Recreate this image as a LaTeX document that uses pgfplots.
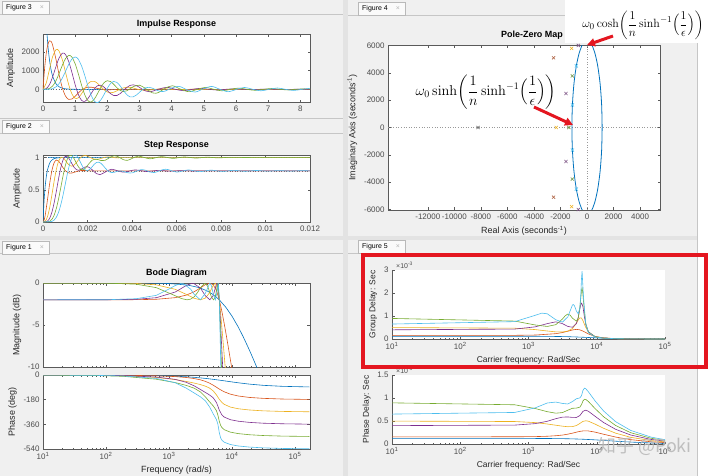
\documentclass[border=0pt]{standalone}
\usepackage[no-math]{fontspec}
\setmainfont{Liberation Sans}
\newfontfamily\cjk{Noto Sans CJK SC}
\usepackage{amsmath}
\usepackage{pgfplots}
\pgfplotsset{compat=1.18}
\usetikzlibrary{arrows.meta}

\definecolor{mb}{rgb}{0,0.447,0.741}
\definecolor{mo}{rgb}{0.85,0.325,0.098}
\definecolor{my}{rgb}{0.929,0.694,0.125}
\definecolor{mp}{rgb}{0.494,0.184,0.556}
\definecolor{mg}{rgb}{0.466,0.674,0.188}
\definecolor{mc}{rgb}{0.301,0.745,0.933}
\definecolor{figbg}{RGB}{240,240,240}
\definecolor{axc}{RGB}{90,90,90}
\definecolor{redbox}{RGB}{228,22,32}

\pgfplotsset{
  matax/.style={
    scale only axis, anchor=north west,
    axis background/.style={fill=white},
    axis line style={axc, line width=0.45pt},
    every tick/.style={axc, line width=0.4pt},
    major tick length=2.5bp, minor tick length=1.5bp,
    tick align=inside,
    tick label style={font=\fontsize{8}{9}\selectfont, text=black!70},
    label style={font=\fontsize{9}{10}\selectfont, text=black!85},
    title style={font=\fontsize{9}{10}\selectfont\bfseries, yshift=-4bp},
    every axis plot/.append style={line width=0.6pt},
    scaled ticks=false,
  },
  mylogticks/.style={xtick={10,100,1000,10000,100000},
    xticklabels={10\textsuperscript{1},10\textsuperscript{2},10\textsuperscript{3},10\textsuperscript{4},10\textsuperscript{5}},
    minor xtick={20,30,40,50,60,70,80,90,200,300,400,500,600,700,800,900,2000,3000,4000,5000,6000,7000,8000,9000,20000,30000,40000,50000,60000,70000,80000,90000}},
}

\newcommand{\figtab}[3]{%
  \fill[white!96!gray, draw=gray!55, line width=0.4bp] (#1,#2) rectangle ++(47,13);
  \node[anchor=west, font=\fontsize{7}{8}\selectfont, inner sep=0] at (#1+4,#2+6.5) {#3};
  \node[font=\fontsize{7}{8}\selectfont, text=gray!60, inner sep=0] at (#1+40,#2+6.5) {×};
}

\begin{document}
\begin{tikzpicture}
\useasboundingbox (0,0) rectangle (720bp,-476bp);
\begin{scope}[x=1bp,y=-1bp]
\fill[white] (0,0) rectangle (720,476);
\fill[figbg] (0,0) rectangle (343,236);
\fill[figbg] (348,0) rectangle (697,236);
\fill[figbg] (0,240) rectangle (343,476);
\fill[figbg] (348,240) rectangle (697,476);
\fill[gray!22] (343,0) rectangle (348,476);
\fill[gray!22] (0,236) rectangle (697,240);
\draw[gray!45, line width=0.5bp] (0,14) -- (343,14);
\draw[gray!45, line width=0.5bp] (0,118) -- (343,118);
\draw[gray!45, line width=0.5bp] (0,133) -- (343,133);
\draw[gray!45, line width=0.5bp] (348,15) -- (697,15);
\draw[gray!45, line width=0.5bp] (0,253) -- (343,253);
\draw[gray!45, line width=0.5bp] (348,253) -- (697,253);
\draw[gray!45, line width=0.5bp] (697,0) -- (697,476);
\figtab{2}{1}{Figure 3}
\figtab{2}{120}{Figure 2}
\figtab{358}{2}{Figure 4}
\figtab{2}{241}{Figure 1}
\figtab{358}{240}{Figure 5}
\end{scope}

% ---------------- Impulse response (t in ms)
\begin{axis}[matax, at={(43bp,-34bp)}, width=267bp, height=68bp,
  xmin=0, xmax=8.3, ymin=-680, ymax=2965,
  xtick={0,1,2,3,4,5,6,7,8}, xticklabels={0,1,2,3,4,5,6,7,8},
  ytick={0,1000,2000}, yticklabels={0,1000,2000},
  title={Impulse Response}, ylabel={Amplitude}]
\addplot[black!60, dotted, line width=0.5pt] coordinates {(0,0) (8.3,0)};
\addplot[mb, smooth] coordinates {(0,8213) (0.05,5451) (0.1,3618) (0.15,2401) (0.2,1594) (0.25,1058) (0.3,702) (0.4,309) (0.5,136) (0.6,60) (0.7,26) (0.85,8) (1.0,2) (1.5,0) (8.3,0)};
\addplot[mo, smooth] coordinates {(0,0) (0.05,1124) (0.1,1918) (0.15,2398) (0.2,2599) (0.25,2571) (0.3,2365) (0.4,1636) (0.5,792) (0.6,84) (0.7,-364) (0.8,-543) (0.9,-517) (1.0,-373) (1.1,-193) (1.2,-37) (1.3,67) (1.4,113) (1.5,113) (1.6,84) (1.7,46) (1.8,12) (2.0,-23) (2.3,-11) (2.6,2) (3.0,0) (8.3,0)};
\addplot[my, smooth] coordinates {(0,0) (0.1,336) (0.2,1061) (0.3,1755) (0.4,2123) (0.45,2142) (0.5,2050) (0.6,1591) (0.7,919) (0.8,247) (0.9,-251) (1.0,-484) (1.1,-451) (1.2,-233) (1.3,52) (1.4,299) (1.5,429) (1.6,426) (1.7,313) (1.8,141) (1.9,-29) (2.0,-143) (2.1,-186) (2.2,-157) (2.4,6) (2.5,76) (2.6,111) (2.7,107) (2.8,72) (3.0,-21) (3.2,-57) (3.45,-10) (3.7,31) (4.2,-15) (4.7,7) (5.2,0) (8.3,0)};
\addplot[mp, smooth] coordinates {(0,0) (0.1,38) (0.2,247) (0.3,670) (0.4,1204) (0.5,1681) (0.6,1935) (0.65,1941) (0.7,1865) (0.8,1487) (0.9,897) (1.0,248) (1.1,-284) (1.2,-593) (1.3,-644) (1.4,-489) (1.5,-220) (1.6,40) (1.7,199) (1.8,219) (1.9,111) (2.0,-64) (2.1,-234) (2.2,-334) (2.3,-330) (2.4,-229) (2.5,-70) (2.6,91) (2.7,205) (2.8,242) (2.9,201) (3.0,105) (3.07,20) (3.2,-95) (3.332,-136) (3.593,8) (3.854,107) (4.115,0) (4.376,-76) (4.637,0) (4.898,54) (5.159,0) (5.42,-38) (5.681,0) (5.942,27) (6.203,0) (6.464,-19) (6.725,0) (6.986,13) (7.247,0) (7.508,-10) (7.769,0) (8.03,7) (8.3,0)};
\addplot[mg, smooth] coordinates {(0,0) (0.2,42) (0.3,176) (0.4,449) (0.5,845) (0.6,1284) (0.7,1647) (0.8,1820) (0.85,1807) (0.9,1728) (1.0,1369) (1.1,821) (1.2,217) (1.3,-298) (1.4,-614) (1.5,-678) (1.6,-516) (1.7,-216) (1.8,110) (1.9,357) (2.0,461) (2.1,417) (2.2,266) (2.3,85) (2.4,-60) (2.5,-118) (2.6,-82) (2.7,20) (2.8,137) (3.0,221) (3.2,28) (3.4,-191) (3.512,-212) (3.6,-164) (3.8,57) (4.026,191) (4.283,0) (4.54,-128) (4.797,0) (5.053,103) (5.31,0) (5.567,-83) (5.824,0) (6.08,67) (6.337,0) (6.594,-54) (6.851,0) (7.108,43) (7.365,0) (7.621,-35) (7.878,0) (8.135,28) (8.3,16)};
\addplot[mc, smooth] coordinates {(0,0) (0.2,5) (0.3,36) (0.4,127) (0.5,307) (0.6,598) (0.7,964) (0.8,1338) (0.9,1626) (1.0,1733) (1.05,1702) (1.1,1608) (1.2,1251) (1.3,730) (1.4,159) (1.5,-334) (1.6,-640) (1.7,-712) (1.8,-564) (1.9,-271) (2.0,58) (2.1,313) (2.2,422) (2.3,367) (2.4,182) (2.5,-60) (2.6,-276) (2.7,-401) (2.8,-407) (2.9,-312) (3.0,-159) (3.1,-10) (3.2,87) (3.3,108) (3.4,62) (3.5,-18) (3.6,-91) (3.718,-121) (3.8,-94) (4.0,69) (4.228,158) (4.482,-28) (4.737,-145) (4.992,33) (5.247,155) (5.501,0) (5.756,-128) (6.01,-5) (6.265,100) (6.52,0) (6.774,-80) (7.029,0) (7.283,71) (7.538,0) (7.793,-61) (8.048,0) (8.3,53)};
\end{axis}

% ---------------- Step response (t in ms)
\begin{axis}[matax, at={(43bp,-155bp)}, width=267bp, height=67bp,
  xmin=0, xmax=12, ymin=0, ymax=1.04,
  xtick={0,2,4,6,8,10,12}, xticklabels={0,0.002,0.004,0.006,0.008,0.01,0.012},
  ytick={0,0.5,1}, yticklabels={0,0.5,1},
  title={Step Response}, ylabel={Amplitude}]
\addplot[black!55, dotted, line width=0.5pt] coordinates {(0,1) (12,1)};
\addplot[black!55, dotted, line width=0.5pt] coordinates {(0,0.794) (12,0.794)};
\addplot[mb, smooth] coordinates {(0,0) (0.05,0.337) (0.1,0.560) (0.15,0.708) (0.2,0.806) (0.3,0.915) (0.4,0.962) (0.5,0.984) (0.7,0.997) (1,1) (12,1)};
\addplot[mo, smooth] coordinates {(0,0) (0.05,0.0295) (0.1,0.1069) (0.2,0.342) (0.3,0.5961) (0.4,0.799) (0.5,0.9195) (0.6,0.9617) (0.7,0.9453) (0.8,0.898) (0.9,0.8432) (1.0,0.7984) (1.1,0.7699) (1.2,0.7589) (1.3,0.7609) (1.5,0.7822) (1.7,0.7986) (2.0,0.7994) (2.5,0.794) (12,0.794)};
\addplot[my, smooth] coordinates {(0,0) (0.1,0.0118) (0.2,0.0804) (0.3,0.2229) (0.4,0.4203) (0.5,0.6325) (0.6,0.817) (0.7,0.9435) (0.8,1.001) (0.9,0.9991) (1.0,0.9596) (1.1,0.911) (1.2,0.8767) (1.3,0.8665) (1.4,0.885) (1.5,0.9225) (1.6,0.9668) (1.7,1.004) (1.8,1.0267) (1.9,1.032) (2.0,1.0229) (2.1,1.0055) (2.2,0.9879) (2.4,0.9718) (2.6,0.9862) (2.9,1.0111) (3.4,0.9937) (4.0,1.0) (12,1)};
\addplot[mp, smooth] coordinates {(0,0) (0.1,0.0007) (0.2,0.0132) (0.3,0.0586) (0.4,0.1523) (0.5,0.2963) (0.6,0.4786) (0.7,0.6723) (0.8,0.8421) (0.9,0.9619) (1.0,1.0185) (1.1,1.0135) (1.2,0.9689) (1.3,0.9055) (1.4,0.8476) (1.5,0.8118) (1.6,0.8033) (1.7,0.8161) (1.8,0.8383) (1.9,0.8558) (2.0,0.8584) (2.1,0.8429) (2.2,0.8137) (2.4,0.7511) (2.567,0.735) (2.8,0.7756) (3.089,0.8188) (3.611,0.7733) (4.133,0.8087) (4.655,0.7836) (5.177,0.8014) (5.699,0.7888) (6.221,0.7977) (6.743,0.7914) (7.5,0.794) (12,0.794)};
\addplot[mg, smooth] coordinates {(0,0) (0.2,0.0019) (0.3,0.0118) (0.4,0.0417) (0.5,0.1054) (0.6,0.2118) (0.7,0.3593) (0.8,0.5349) (0.9,0.7143) (1.0,0.8715) (1.1,0.9822) (1.2,1.0339) (1.3,1.0284) (1.4,0.981) (1.5,0.9148) (1.6,0.853) (1.7,0.8155) (1.8,0.8104) (1.9,0.8346) (2.0,0.877) (2.2,0.9568) (2.4,0.9752) (2.6,0.9548) (2.8,0.9594) (3.0,1.0) (3.2,1.0282) (3.4,1.0095) (3.6,0.969) (3.8,0.9573) (4.0,0.9857) (4.294,1.023) (4.808,0.9813) (5.322,1.015) (5.835,0.9879) (6.349,1.0097) (6.863,0.9922) (7.376,1.0063) (7.89,0.995) (8.4,1.004) (9.5,1) (12,1)};
\addplot[mc, smooth] coordinates {(0,0) (0.4,0.0092) (0.5,0.0295) (0.6,0.0744) (0.7,0.1516) (0.8,0.2679) (0.9,0.4159) (1.0,0.5861) (1.1,0.7552) (1.2,0.9001) (1.3,0.9997) (1.4,1.0447) (1.5,1.0347) (1.6,0.9844) (1.7,0.9149) (1.8,0.8495) (1.9,0.8066) (2.0,0.7962) (2.1,0.8157) (2.2,0.854) (2.3,0.8948) (2.4,0.9231) (2.5,0.9293) (2.6,0.912) (2.7,0.8773) (2.8,0.836) (2.9,0.7993) (3.0,0.7755) (3.1,0.7673) (3.2,0.7717) (3.3,0.7821) (3.4,0.791) (3.5,0.7932) (3.6,0.7877) (3.8,0.7654) (4.0,0.7619) (4.2,0.7881) (4.4,0.8122) (4.6,0.804) (4.8,0.7761) (5.0,0.7666) (5.509,0.8196) (6.018,0.775) (6.527,0.8084) (7.036,0.7816) (7.546,0.8047) (8.055,0.7848) (8.564,0.8019) (9.074,0.7872) (9.583,0.7998) (10.09,0.789) (10.6,0.7983) (11.11,0.7903) (11.62,0.7972) (12,0.793)};
\end{axis}

% ---------------- Pole-zero map
\begin{axis}[matax, at={(388bp,-45bp)}, width=272bp, height=165bp,
  xmin=-15000, xmax=5500, ymin=-6050, ymax=6050,
  xtick={-12000,-10000,-8000,-6000,-4000,-2000,0,2000,4000},
  xticklabels={-12000,-10000,-8000,-6000,-4000,-2000,0,2000,4000},
  ytick={-6000,-4000,-2000,0,2000,4000,6000},
  yticklabels={-6000,-4000,-2000,0,2000,4000,6000},
  title={Pole-Zero Map}, title style={xshift=8bp},
  xlabel={Real Axis (seconds\textsuperscript{-1})},
  ylabel={Imaginary Axis (seconds\textsuperscript{-1})}]
\addplot[black!40, dotted, line width=0.5pt] coordinates {(-15000,0) (5500,0)};
\addplot[black!40, dotted, line width=0.5pt] coordinates {(0,-6050) (0,6050)};
\addplot[mb, smooth, line width=0.8pt] coordinates {(1140,0) (1101,1653) (987,3193) (806,4516) (570,5530) (295,6168) (0,6386) (-295,6168) (-570,5530) (-806,4516) (-987,3193) (-1101,1653) (-1140,0) (-1101,-1653) (-987,-3193) (-806,-4516) (-570,-5530) (-295,-6168) (0,-6386) (295,-6168) (570,-5530) (806,-4516) (987,-3193) (1101,-1653) (1140,0)};
\addplot[only marks, mark=x, mark size=2.2bp, black!65] coordinates {(-8213,0)};
\addplot[only marks, mark=x, mark size=2.2bp, mo!55!gray] coordinates {(-2524,5110) (-2524,-5110)};
\addplot[only marks, mark=x, mark size=2.2bp, my] coordinates {(-1159,5800) (-1159,-5800) (-2317,0)};
\addplot[only marks, mark=x, mark size=2.2bp, mp!50!gray] coordinates {(-659,6018) (-659,-6018) (-1590,2493) (-1590,-2493)};
\addplot[only marks, mark=x, mark size=2.2bp, mg!60!gray] coordinates {(-423,6116) (-423,-6116) (-1109,3780) (-1109,-3780) (-1371,0)};
\addplot[only marks, mark=x, mark size=2.2bp, mc] coordinates {(-295,6168) (-295,-6168) (-806,4515) (-806,-4515) (-1101,1652) (-1101,-1652)};
\end{axis}

% ---------------- Bode magnitude
\begin{axis}[matax, xmode=log, mylogticks, at={(43bp,-283bp)}, width=267bp, height=84bp,
  xmin=10, xmax=173000, ymin=-10, ymax=0, xticklabels={},
  ytick={-10,-5,0}, yticklabels={-10,-5,0},
  title={Bode Diagram}, ylabel={Magnitude (dB)}]
\addplot[mb] coordinates {(10,0) (300,-0.005) (600,-0.023) (1000,-0.064) (2000,-0.25) (3000,-0.545) (4000,-0.925) (5000,-1.368) (6283,-2.0) (8000,-2.897) (10000,-3.947) (12566,-5.24) (15000,-6.37) (18850,-7.97) (20000,-8.405) (25000,-10.11)};
\addplot[mo] coordinates {(10,-2.0) (100,-1.999) (314,-1.986) (628,-1.936) (1257,-1.746) (1885,-1.44) (2513,-1.04) (3142,-0.59) (3770,-0.195) (4443,0) (5027,-0.195) (5655,-0.88) (6283,-2.0) (6912,-3.39) (7540,-4.87) (8168,-6.35) (8796,-7.77) (9425,-9.12) (9927,-10.14)};
\addplot[my] coordinates {(10,0) (100,-0.006) (300,-0.051) (628,-0.217) (1257,-0.751) (1885,-1.358) (2513,-1.82) (3142,-2.0) (3770,-1.80) (4398,-1.17) (5027,-0.30) (5441,0) (5969,-0.78) (6283,-2.0) (6597,-3.58) (6912,-5.31) (7226,-7.04) (7540,-8.70) (7854,-10.27)};
\addplot[mp] coordinates {(10,-2.0) (100,-1.997) (300,-1.943) (628,-1.75) (1257,-1.075) (1885,-0.29) (2405,0) (3142,-0.59) (3770,-1.51) (4443,-2.0) (5027,-1.51) (5655,-0.13) (5805,0) (6095,-0.72) (6283,-2.0) (6409,-3.10) (6597,-4.94) (6912,-8.05) (7100,-9.81) (7163,-10.38)};
\addplot[mg] coordinates {(10,0) (100,-0.016) (300,-0.139) (628,-0.55) (1257,-1.516) (1571,-1.85) (1941,-2.0) (2199,-1.925) (2513,-1.635) (2827,-1.15) (3142,-0.59) (3694,0) (4084,-0.363) (4398,-1.02) (4712,-1.656) (5083,-2.0) (5341,-1.80) (5529,-1.343) (5655,-0.91) (5975,0) (6283,-2.0) (6409,-3.79) (6534,-5.74) (6660,-7.70) (6786,-9.58) (6849,-10.48)};
\addplot[mc] coordinates {(10,-2.0) (100,-1.997) (300,-1.87) (628,-1.47) (1000,-0.718) (1257,-0.30) (1627,0) (2200,-0.72) (2513,-1.344) (3142,-2.0) (3770,-1.24) (4443,0) (4712,-0.33) (5027,-1.24) (5441,-2.0) (5843,-0.92) (6069,0) (6283,-2.0) (6346,-3.26) (6471,-6.08) (6597,-8.85) (6660,-10.19)};
\end{axis}

% ---------------- Bode phase
\begin{axis}[matax, xmode=log, mylogticks, at={(43bp,-375bp)}, width=267bp, height=74bp,
  xmin=10, xmax=173000, ymin=-540, ymax=0,
  ytick={-540,-360,-180,0}, yticklabels={-540,-360,-180,0},
  xlabel={Frequency  (rad/s)}, ylabel={Phase (deg)}]
\addplot[mb] coordinates {(10,-0.07) (62.8,-0.44) (188.5,-1.3) (628,-4.4) (1257,-8.7) (1885,-12.9) (2513,-17.0) (3142,-20.9) (3770,-24.7) (4398,-28.2) (5027,-31.5) (5655,-34.6) (6283,-37.4) (9425,-48.9) (12566,-56.8) (18850,-66.5) (31416,-75.4) (62832,-82.6) (169646,-87.2)};
\addplot[mo] coordinates {(10,-0.09) (62.8,-0.56) (188.5,-1.68) (628,-5.7) (1257,-11.6) (1885,-18.2) (2513,-25.9) (3142,-35.0) (3770,-46.2) (4398,-59.4) (5027,-74.1) (5655,-89.0) (6283,-102.4) (6912,-113.6) (7540,-122.6) (9425,-139.8) (12566,-153.2) (18850,-163.6) (31416,-170.5) (62832,-175.3) (169646,-178.3)};
\addplot[my] coordinates {(10,-0.29) (62.8,-1.79) (188.5,-5.4) (628,-17.6) (1257,-33.5) (1885,-47.0) (2513,-58.8) (3142,-69.8) (3770,-81.2) (4398,-95.3) (5027,-115.5) (5655,-144.8) (5969,-161.5) (6283,-176.9) (6912,-200.1) (7540,-214.2) (9425,-234.1) (12566,-246.3) (18850,-255.2) (31416,-261.6) (62832,-265.8) (169646,-268.4)};
\addplot[mp] coordinates {(10,-0.23) (62.8,-1.44) (188.5,-4.3) (628,-14.8) (1257,-31.9) (1885,-53.4) (2513,-79.3) (3142,-105.2) (3770,-127.0) (4398,-145.7) (5027,-166.2) (5655,-200.2) (5969,-227.3) (6283,-255.8) (6912,-291.3) (7540,-307.3) (9425,-326.1) (12566,-337.2) (18850,-345.7) (31416,-351.8) (62832,-355.9) (169646,-358.7)};
\addplot[mg] coordinates {(10,-0.51) (62.8,-3.2) (188.5,-9.6) (628,-30.7) (1257,-55.5) (1885,-75.9) (2513,-96.5) (3142,-122.9) (3770,-158.9) (4398,-195.6) (5027,-225.0) (5655,-259.6) (5969,-292.5) (6283,-337.1) (6597,-367.5) (6912,-383.5) (7540,-399.3) (9425,-416.9) (12566,-427.6) (18850,-435.9) (31416,-441.7) (62832,-445.9) (169646,-448.5)};
\addplot[mc] coordinates {(10,-0.37) (62.8,-2.34) (188.5,-7.1) (628,-24.7) (1257,-56.6) (1885,-96.3) (2513,-131.3) (3142,-158.8) (3770,-188.0) (4398,-232.3) (5027,-283.2) (5655,-324.7) (5969,-358.7) (6283,-419.8) (6597,-458.7) (6912,-475.4) (7540,-490.6) (9425,-507.3) (12566,-517.9) (18850,-526.0) (31416,-531.6) (62832,-535.9) (169646,-538.5)};
\end{axis}

% ---------------- Group delay (ms)
\begin{axis}[matax, xmode=log, mylogticks, at={(392bp,-270bp)}, width=273bp, height=69bp,
  axis x line*=bottom, axis y line*=left,
  xmin=10, xmax=100000, ymin=0, ymax=3,
  ytick={0,1,2,3}, yticklabels={0,1,2,3},
  xlabel={Carrier frequency: Rad/Sec}, ylabel={Group Delay: Sec},
  label style={font=\fontsize{8.5}{9}\selectfont}]
\addplot[mb] coordinates {(10,0.1218) (628,0.1211) (1257,0.1190) (1885,0.1157) (3142,0.1062) (4398,0.0946) (6283,0.0768) (9425,0.0526) (12566,0.0364) (18850,0.0194) (31416,0.0078) (62832,0.002) (100000,0.0008)};
\addplot[mo] coordinates {(10,0.1554) (628,0.160) (1257,0.1728) (2513,0.2316) (3142,0.2803) (3770,0.3387) (4398,0.3931) (5027,0.4188) (5655,0.3993) (6283,0.3443) (7540,0.2209) (9425,0.1126) (12566,0.0487) (18850,0.0173) (31416,0.0055) (62832,0.0014) (100000,0.0006)};
\addplot[my] coordinates {(10,0.4978) (628,0.4704) (1257,0.4089) (1885,0.3484) (2513,0.3102) (3142,0.3041) (3770,0.343) (4398,0.4549) (5027,0.6826) (5341,0.8236) (5655,0.9207) (5969,0.910) (6283,0.7948) (6597,0.6407) (6912,0.5002) (7540,0.3089) (9425,0.1096) (12566,0.0422) (18850,0.0151) (31416,0.0048) (62832,0.0012) (100000,0.0005)};
\addplot[mp] coordinates {(10,0.3995) (628,0.4314) (1257,0.5285) (1885,0.6697) (2513,0.7467) (3142,0.6687) (3770,0.5471) (4398,0.5115) (5027,0.6747) (5341,0.9168) (5655,1.318) (5843,1.50) (5969,1.56) (6095,1.52) (6283,1.40) (6597,0.962) (6912,0.629) (7540,0.316) (9425,0.1005) (12566,0.04) (18850,0.0145) (31416,0.0048) (62832,0.0012) (100000,0.0005)};
\addplot[mg] coordinates {(10,0.8945) (628,0.7792) (1257,0.6097) (1885,0.5459) (2513,0.6235) (3142,0.8685) (3456,1.0136) (3770,1.085) (4084,1.0326) (4398,0.908) (5027,0.776) (5341,0.9067) (5655,1.37) (5843,1.80) (5969,2.10) (6095,2.22) (6220,2.05) (6283,1.90) (6597,1.195) (6912,0.662) (7540,0.299) (9425,0.095) (12566,0.0384) (18850,0.0142) (31416,0.0047) (62832,0.0012) (100000,0.0005)};
\addplot[mc] coordinates {(10,0.6505) (628,0.7553) (1257,1.031) (1571,1.125) (1885,1.096) (2513,0.838) (3142,0.7332) (3770,0.963) (4084,1.231) (4398,1.474) (4524,1.503) (4712,1.446) (5027,1.219) (5341,1.094) (5655,1.349) (5843,1.954) (5969,2.60) (6095,2.95) (6220,2.45) (6409,1.80) (6597,1.318) (6912,0.648) (7540,0.283) (9425,0.093) (12566,0.0376) (18850,0.014) (31416,0.0047) (62832,0.0012) (100000,0.0005)};
\end{axis}

% ---------------- Phase delay (ms)
\begin{axis}[matax, xmode=log, mylogticks, at={(392bp,-375bp)}, width=273bp, height=69bp,
  axis x line*=bottom, axis y line*=left,
  xmin=10, xmax=100000, ymin=0, ymax=1.5,
  ytick={0,0.5,1,1.5}, yticklabels={0,0.5,1,1.5},
  xlabel={Carrier frequency: Rad/Sec}, ylabel={Phase Delay: Sec},
  label style={font=\fontsize{8.5}{9}\selectfont}]
\addplot[mb] coordinates {(10,0.1218) (628,0.1215) (1257,0.1208) (1885,0.1197) (3142,0.1163) (4398,0.1118) (6283,0.1039) (9425,0.0906) (12566,0.0789) (18850,0.0615) (31416,0.0419) (62832,0.0229) (100000,0.0151)};
\addplot[mo] coordinates {(10,0.1554) (628,0.157) (1257,0.161) (1885,0.1685) (2513,0.180) (3142,0.1944) (3770,0.2139) (4398,0.2357) (5027,0.2573) (5655,0.2747) (6283,0.2844) (6912,0.2869) (7540,0.2838) (9425,0.2589) (12566,0.2128) (18850,0.1515) (31416,0.0947) (62832,0.0487) (100000,0.0309)};
\addplot[my] coordinates {(10,0.4978) (628,0.4889) (1257,0.4653) (1885,0.4352) (2513,0.4083) (3142,0.3878) (3770,0.3759) (4398,0.3782) (5027,0.401) (5655,0.4469) (5969,0.4722) (6283,0.4914) (6912,0.5053) (7540,0.4958) (9425,0.4335) (12566,0.342) (18850,0.2363) (31416,0.1453) (62832,0.0738) (100000,0.0466)};
\addplot[mp] coordinates {(10,0.3995) (628,0.4111) (1257,0.443) (1885,0.4944) (2513,0.5507) (3142,0.5844) (3770,0.588) (4398,0.5782) (5027,0.5771) (5655,0.6179) (5969,0.6646) (6283,0.7106) (6597,0.725) (6912,0.7356) (7540,0.7113) (9425,0.6039) (12566,0.4683) (18850,0.3201) (31416,0.1954) (62832,0.0989) (100000,0.0625)};
\addplot[mg] coordinates {(10,0.8945) (628,0.8528) (1257,0.7708) (1885,0.7028) (2513,0.6701) (3142,0.6828) (3770,0.7356) (4398,0.7762) (5027,0.7813) (5655,0.8012) (5969,0.8553) (6283,0.9364) (6597,0.9722) (6912,0.9684) (7540,0.9243) (9425,0.772) (12566,0.5939) (18850,0.4036) (31416,0.2454) (62832,0.1239) (100000,0.0782)};
\addplot[mc] coordinates {(10,0.6505) (628,0.6861) (1257,0.7861) (1885,0.8917) (2513,0.9118) (3142,0.8822) (3770,0.8704) (4398,0.9218) (5027,0.9833) (5655,1.002) (5969,1.0488) (6283,1.166) (6597,1.2135) (6912,1.2005) (7540,1.1356) (9425,0.9394) (12566,0.7193) (18850,0.487) (31416,0.2953) (62832,0.1489) (100000,0.0939)};
\end{axis}

% ---------------- overlays
\begin{scope}[x=1bp,y=-1bp]
\node[anchor=west, font=\fontsize{7}{8}\selectfont, text=black!70, inner sep=0] at (396,265) {×10\textsuperscript{-3}};
\node[anchor=west, font=\fontsize{7}{8}\selectfont, text=black!70, inner sep=0] at (396,370) {×10\textsuperscript{-3}};
\draw[redbox, line width=4bp] (363,254.5) rectangle (705.5,366.5);
\fill[white] (565,0) rectangle (720,43);
\node[font=\fontsize{13}{15}\selectfont, inner sep=0] at (643,25) {$\omega_0\cosh\biggl(\dfrac{1}{n}\sinh^{-1}\Bigl(\dfrac{1}{\epsilon}\Bigr)\biggr)$};
\node[font=\fontsize{14.5}{17}\selectfont, inner sep=0] at (486,92) {$\omega_0\sinh\biggl(\dfrac{1}{n}\sinh^{-1}\Bigl(\dfrac{1}{\epsilon}\Bigr)\biggr)$};
\draw[-{Triangle[length=8bp,width=8bp]}, line width=3bp, redbox] (613,36) -- (587,45);
\draw[-{Triangle[length=8bp,width=8bp]}, line width=3bp, redbox] (534,107) -- (573,125);
\node[font=\cjk\fontsize{18}{20}\selectfont, text=gray!55, opacity=0.9, inner sep=0] at (645,447) {知乎 @Poki};
\end{scope}
\end{tikzpicture}
\end{document}
